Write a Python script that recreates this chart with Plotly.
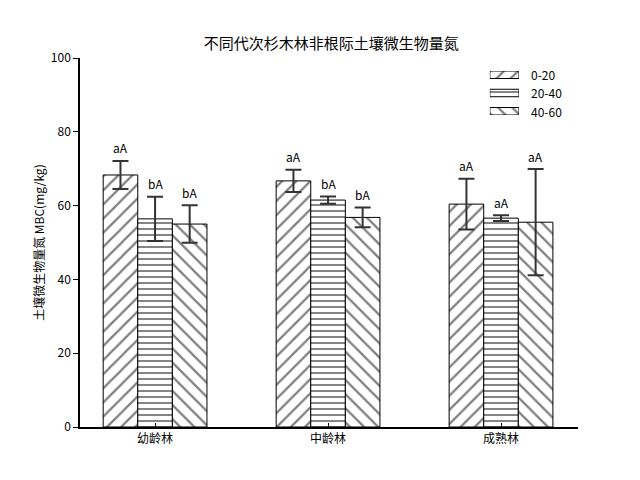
import plotly.graph_objects as go

categories = ["幼龄林", "中龄林", "成熟林"]
series_names = ["0-20", "20-40", "40-60"]
values = {
    "0-20": [68.3, 66.7, 60.4],
    "20-40": [56.4, 61.5, 56.6],
    "40-60": [55.0, 56.8, 55.5],
}
errors = {
    "0-20": [3.8, 3.0, 6.9],
    "20-40": [6.0, 1.0, 0.8],
    "40-60": [5.1, 2.7, 14.4],
}
labels = {
    "0-20": ["aA", "aA", "aA"],
    "20-40": ["bA", "bA", "aA"],
    "40-60": ["bA", "bA", "aA"],
}
shapes = {"0-20": "/", "20-40": "-", "40-60": "\\"}
sizes = {"0-20": 10, "20-40": 6, "40-60": 10}
solid = {"0-20": 0.22, "20-40": 0.32, "40-60": 0.22}
offsets = [-0.2, 0.0, 0.2]
bar_w = 0.2

font_family = "Noto Sans CJK SC, sans-serif"


def marker_for(s):
    return dict(color="white", line=dict(color="black", width=1),
                pattern=dict(shape=shapes[s], fgcolor="black", bgcolor="white",
                             size=sizes[s], solidity=solid[s], fillmode="overlay"))


fig = go.Figure()
annotations = []
for j, s in enumerate(series_names):
    xs = [i + offsets[j] for i in range(len(categories))]
    fig.add_trace(go.Bar(
        x=xs, y=values[s], width=bar_w, name=s, showlegend=False,
        marker=marker_for(s),
        error_y=dict(type="data", array=errors[s], color="#333333", thickness=2, width=8),
    ))
    for i, x in enumerate(xs):
        annotations.append(dict(x=x, y=values[s][i] + errors[s][i], text=labels[s][i],
                                showarrow=False, yshift=13, xref="x", yref="y",
                                font=dict(size=12, color="black", family=font_family)))

# legend drawn as small patterned bars on an auxiliary axis
for j, s in enumerate(series_names):
    fig.add_trace(go.Bar(
        x=[1], y=[2 - j], orientation="h", width=0.41, xaxis="x2", yaxis="y2",
        marker=marker_for(s), showlegend=False, hoverinfo="skip",
    ))
    annotations.append(dict(x=0.9016, y=2 - j, xref="paper", yref="y2", text=s,
                            showarrow=False, xanchor="left", yanchor="middle",
                            font=dict(size=12, color="black", family=font_family)))

fig.update_layout(
    width=640, height=480,
    margin=dict(l=72, r=70, t=50, b=61),
    plot_bgcolor="white", paper_bgcolor="white",
    barmode="overlay",
    title=dict(text="不同代次杉木林非根际土壤微生物量氮", x=0.505, xanchor="center",
               y=0.925, yanchor="middle", font=dict(size=15, color="black", family=font_family)),
    font=dict(family=font_family, color="black", size=12),
    xaxis=dict(range=[-0.434, 2.445], tickvals=[0, 1, 2], ticktext=categories,
               showline=True, linecolor="black", linewidth=1.5, ticks="inside", ticklen=4,
               tickcolor="black", showgrid=False, zeroline=False, tickfont=dict(size=12)),
    yaxis=dict(range=[0, 100], tickvals=[0, 20, 40, 60, 80, 100],
               showline=True, linecolor="black", linewidth=1.5, ticks="outside", ticklen=5,
               tickcolor="black", showgrid=False, zeroline=False, tickfont=dict(size=12),
               title=dict(text="土壤微生物量氮 MBC(mg/kg)", font=dict(size=12), standoff=4)),
    xaxis2=dict(domain=[0.823, 0.8815], range=[0, 1], visible=False, anchor="y2", fixedrange=True),
    yaxis2=dict(domain=[0.8455, 0.9648], range=[-0.205, 2.205], visible=False, anchor="x2", fixedrange=True),
    annotations=annotations,
    showlegend=False,
)

fig.write_html("out.html")
